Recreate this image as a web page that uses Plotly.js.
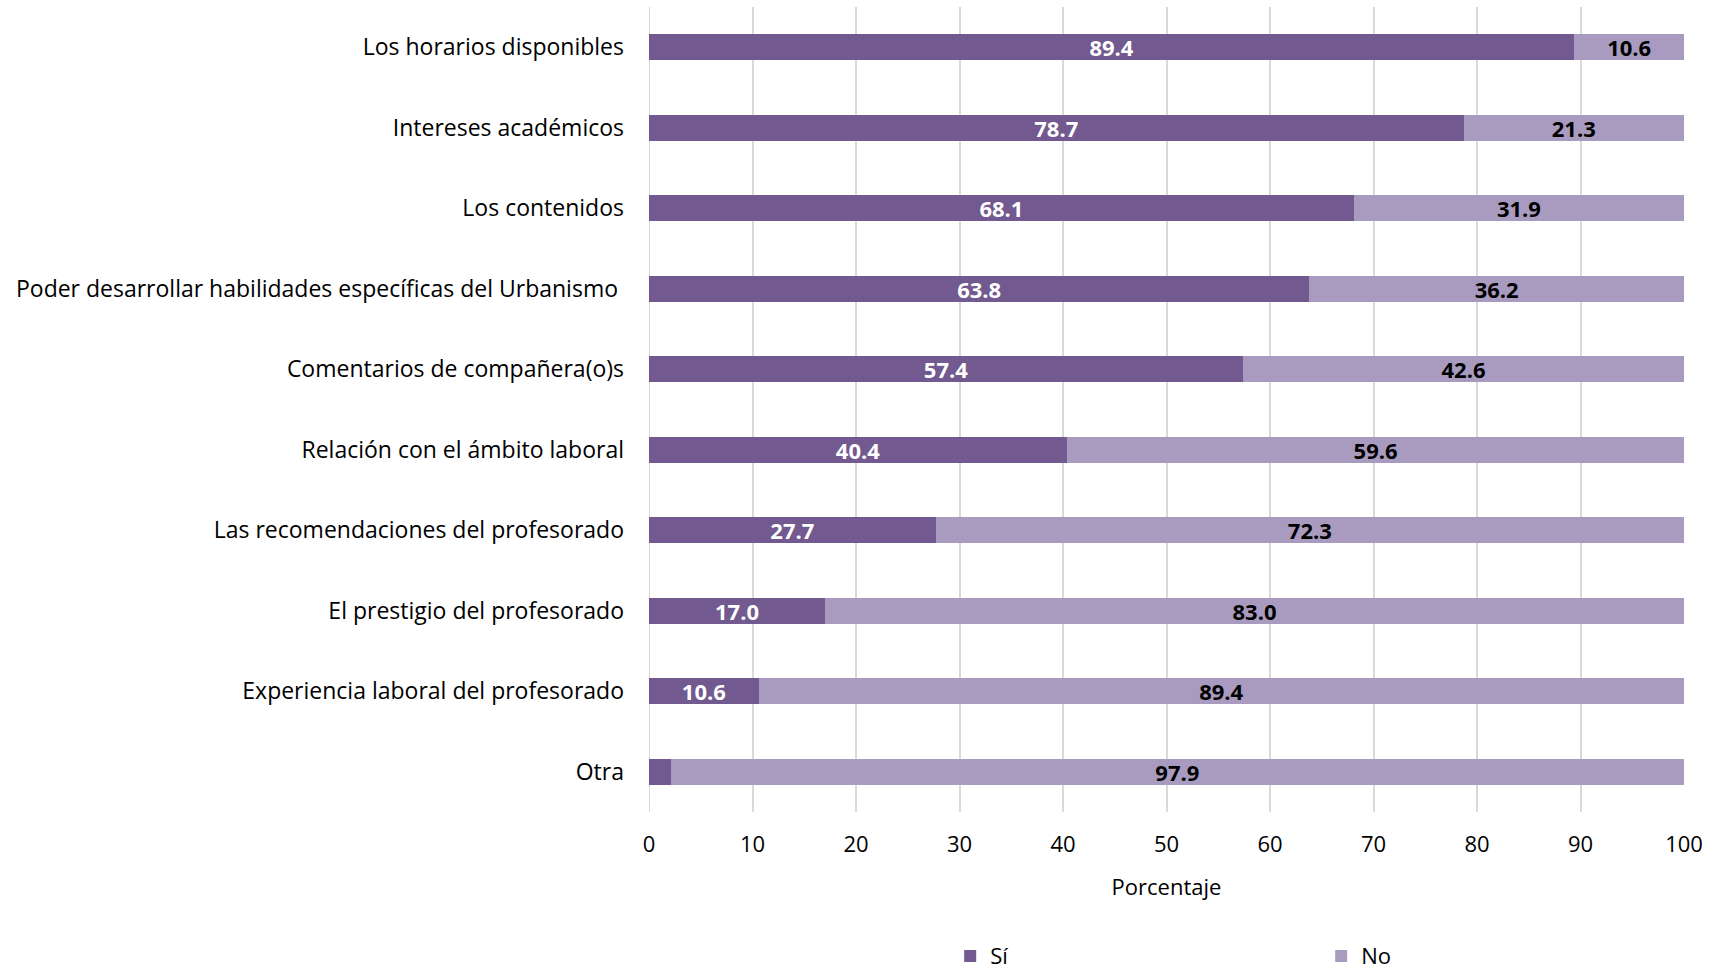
<!DOCTYPE html>
<html>
<head>
<meta charset="utf-8">
<script src="https://cdn.plot.ly/plotly-3.0.1.min.js"></script>
<style>html,body{margin:0;padding:0;background:#fff;}#chart{width:1721px;height:970px;}</style>
</head>
<body>
<div id="chart"></div>
<script>
const categories = [
  "Los horarios disponibles",
  "Intereses académicos",
  "Los contenidos",
  "Poder desarrollar habilidades específicas del Urbanismo ",
  "Comentarios de compañera(o)s",
  "Relación con el ámbito laboral",
  "Las recomendaciones del profesorado",
  "El prestigio del profesorado",
  "Experiencia laboral del profesorado",
  "Otra"
];
const siValues = [89.4, 78.7, 68.1, 63.8, 57.4, 40.4, 27.7, 17.0, 10.6, 2.1];
const noValues = [10.6, 21.3, 31.9, 36.2, 42.6, 59.6, 72.3, 83.0, 89.4, 97.9];
const seriesNames = ["Sí", "No"];
const xTicks = [0, 10, 20, 30, 40, 50, 60, 70, 80, 90, 100];

const FONT = "'Open Sans', 'Noto Sans', sans-serif";
const label = v => (v < 5 ? "" : v.toFixed(1));

const traces = [
  {
    type: "bar", orientation: "h", name: seriesNames[0],
    y: categories, x: siValues,
    text: siValues.map(label), textposition: "inside", insidetextanchor: "middle",
    textfont: {family: FONT, size: 22, color: "#ffffff", weight: "bold"},
    marker: {color: "#72598f"}, width: 0.32, hoverinfo: "x+y"
  },
  {
    type: "bar", orientation: "h", name: seriesNames[1],
    y: categories, x: noValues,
    text: noValues.map(label), textposition: "inside", insidetextanchor: "middle",
    textfont: {family: FONT, size: 22, color: "#000000", weight: "bold"},
    marker: {color: "#a99bbf"}, width: 0.32, hoverinfo: "x+y"
  }
];

const layout = {
  width: 1721, height: 970,
  barmode: "stack",
  paper_bgcolor: "#ffffff", plot_bgcolor: "#ffffff",
  margin: {l: 649, r: 37, t: 7, b: 158, autoexpand: false},
  font: {family: FONT, size: 22, color: "#000000"},
  uniformtext: {mode: "show", minsize: 18},
  xaxis: {
    range: [0, 100], tickvals: xTicks, ticktext: xTicks.map(String),
    showgrid: true, gridcolor: "#d9d9d9", gridwidth: 2,
    zeroline: false, showline: false, ticks: "", automargin: false,
    ticklabelstandoff: 17,
    tickfont: {family: FONT, size: 22, color: "#000000"},
    title: {text: "Porcentaje", font: {family: FONT, size: 22, color: "#000000"}, standoff: 22}
  },
  yaxis: {
    autorange: "reversed", type: "category", automargin: false,
    showgrid: false, zeroline: false, showline: false, ticks: "", ticklen: 0,
    ticklabelstandoff: 24,
    tickfont: {family: FONT, size: 23, color: "#000000"}
  },
  shapes: [{type: "line", xref: "x", yref: "paper", x0: 0, x1: 0, y0: 0, y1: 1, line: {color: "#d9d9d9", width: 2}, layer: "below"}],
  legend: {
    orientation: "h", x: 0.291, xanchor: "left", y: -0.179, yanchor: "middle",
    entrywidth: 326, entrywidthmode: "pixels",
    font: {family: FONT, size: 22, color: "#000000"}, traceorder: "normal",
    itemwidth: 30
  },
  showlegend: true
};

Plotly.newPlot("chart", traces, layout, {displayModeBar: false, staticPlot: true});
</script>
</body>
</html>
